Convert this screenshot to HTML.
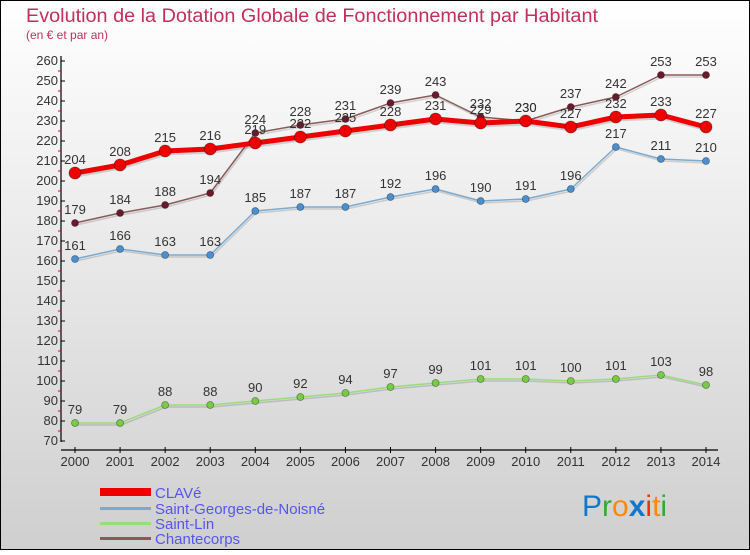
<!DOCTYPE html>
<html><head><meta charset="utf-8"><style>
body{margin:0}
#c{width:750px;height:550px;position:relative;font-family:"Liberation Sans",sans-serif}
svg text{font-family:"Liberation Sans",sans-serif}
</style></head><body>
<div id="c">
<svg id="s" width="750" height="550" xmlns="http://www.w3.org/2000/svg">
<defs><linearGradient id="bg" x1="0" y1="0" x2="0" y2="1"><stop offset="0" stop-color="#ffffff"/><stop offset="1" stop-color="#cfcfcf"/></linearGradient></defs>
<rect x="0.5" y="0.5" width="749" height="549" fill="url(#bg)" stroke="#000"/>
<text x="26" y="22" font-size="19" fill="#c0305a" textLength="572" lengthAdjust="spacingAndGlyphs">Evolution de la Dotation Globale de Fonctionnement par Habitant</text>
<text x="26" y="39" font-size="12" fill="#c0305a">(en € et par an)</text>
<g id="axes"></g><g id="series"></g>
<g>
<rect x="100" y="488" width="51" height="8" fill="#e00"/>
<text x="155" y="498" font-size="15" fill="#5555ee">CLAVé</text>
<rect x="100" y="507" width="51" height="3" fill="#7aaad0"/>
<text x="155" y="514" font-size="15" fill="#5555ee">Saint-Georges-de-Noisné</text>
<rect x="100" y="522" width="51" height="3" fill="#99dd77"/>
<text x="155" y="529" font-size="15" fill="#5555ee">Saint-Lin</text>
<rect x="100" y="537" width="51" height="3" fill="#8a5a5a"/>
<text x="155" y="544" font-size="15" fill="#5555ee">Chantecorps</text>
</g>
<g font-size="30">
<text x="582" y="516"><tspan fill="#1177cc">P</tspan><tspan fill="#33aa33">r</tspan><tspan fill="#ff8800">o</tspan><tspan fill="#1177cc" font-weight="bold">x</tspan><tspan fill="#ee3311">i</tspan><tspan fill="#ff8800">t</tspan><tspan fill="#33aa33">i</tspan></text>
</g>
</svg></div>
<script>
const years=[2000,2001,2002,2003,2004,2005,2006,2007,2008,2009,2010,2011,2012,2013,2014];
const clave=[204,208,215,216,219,222,225,228,231,229,230,227,232,233,227];
const stGeorges=[161,166,163,163,185,187,187,192,196,190,191,196,217,211,210];
const stLin=[79,79,88,88,90,92,94,97,99,101,101,100,101,103,98];
const chantecorps=[179,184,188,194,224,228,231,239,243,232,230,237,242,253,253];
const yTicks=[70,80,90,100,110,120,130,140,150,160,170,180,190,200,210,220,230,240,250,260];
const NS="http://www.w3.org/2000/svg";
const X=i=>75+i*(631/14);
const Y=v=>61+(260-v)*2;
function mk(tag,attrs,parent){const e=document.createElementNS(NS,tag);for(const k in attrs)e.setAttribute(k,attrs[k]);parent.appendChild(e);return e;}
const ax=document.getElementById('axes');
let l=mk('line',{x1:61,y1:56,x2:61,y2:442,stroke:'#000','stroke-width':1.2},ax);


l=mk('line',{x1:61,y1:450,x2:718,y2:450,stroke:'#000','stroke-width':1.2},ax);


yTicks.forEach(v=>{
 mk('line',{x1:61,y1:Y(v),x2:65,y2:Y(v),stroke:'#000'},ax);
 if(v<260)mk('line',{x1:58,y1:Y(v+5),x2:61,y2:Y(v+5),stroke:'#e00'},ax);
 const t=mk('text',{x:58,y:Y(v)+4,'font-size':13,'text-anchor':'end',fill:'#333'},ax);
 t.textContent=v;
 
 
});
years.forEach((y,i)=>{
 mk('line',{x1:X(i),y1:447,x2:X(i),y2:453,stroke:'#000'},ax);
 const t=mk('text',{x:X(i),y:466,'font-size':13,'text-anchor':'middle',fill:'#333'},ax);
 t.textContent=y;
 
 
});
const sg=document.getElementById('series');
function series(data,name,color,w,r,dot){
 const g=mk('g',{},sg);
 
 
 const pts=data.map((v,i)=>X(i)+','+Y(v)).join(' ');
 mk('polyline',{points:pts,fill:'none',stroke:'rgba(0,0,0,0.15)','stroke-width':w,transform:'translate(1,2)'},g);
 const p=mk('polyline',{points:pts,fill:'none',stroke:color,'stroke-width':w,'stroke-linejoin':'round'},g);
 
 
 data.forEach((v,i)=>{
  const c=mk('circle',{cx:X(i),cy:Y(v),r:r,fill:dot,stroke:'rgba(0,0,0,0.4)','stroke-width':0.8},g);
  
  
  const t=mk('text',{x:X(i),y:Y(v)-9,'font-size':13,'text-anchor':'middle',fill:'#333'},g);
  t.textContent=v;
  
  
 });
}
series(stLin,'saint-lin','#99dd77',1.5,3.5,'#77cc44');
series(stGeorges,'saint-georges','#7aaad0',1.5,3.5,'#4a90d0');
series(chantecorps,'chantecorps','#8a5a5a',1.5,3.5,'#6a1a2a');
series(clave,'clave','#ee0000',5,6,'#ee0000');
</script>
</body></html>
